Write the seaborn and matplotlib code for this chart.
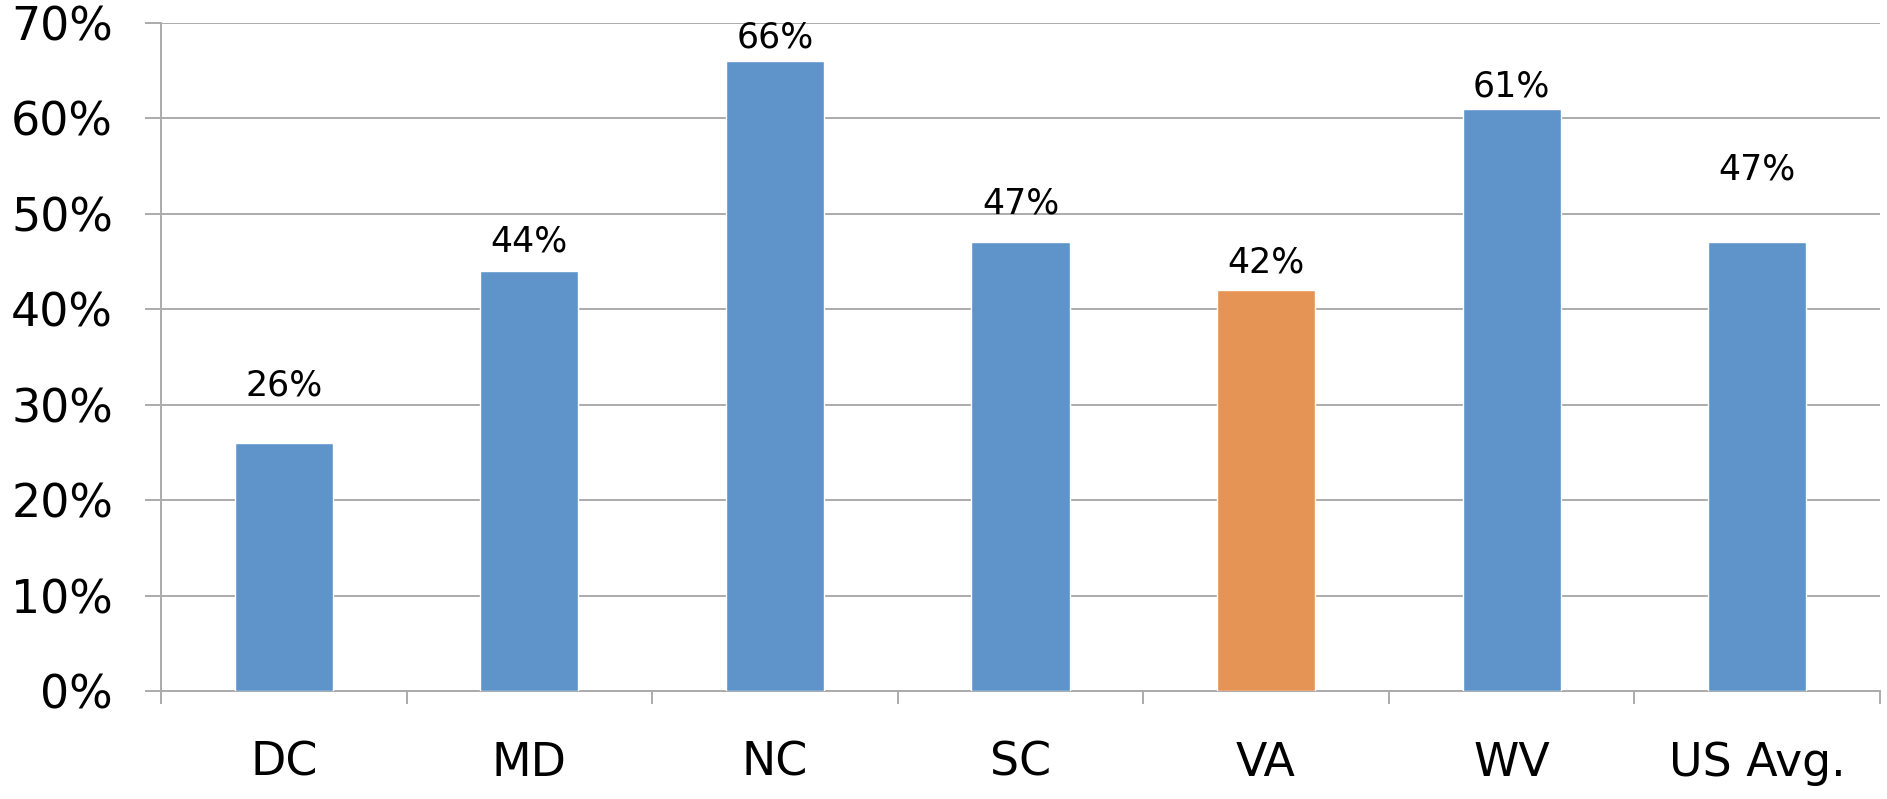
import numpy as np
import pandas as pd
import matplotlib
matplotlib.use("Agg")
import matplotlib.pyplot as plt
from matplotlib.ticker import FixedLocator
import seaborn as sns

# data
states = ["DC", "MD", "NC", "SC", "VA", "WV", "US Avg."]
share = [26, 44, 66, 47, 42, 61, 47]
bar_colors = ["#5E94C9", "#5E94C9", "#5E94C9", "#5E94C9", "#E69456", "#5E94C9", "#5E94C9"]
# how far each label sits above its bar (points)
label_gap = [29, 9, 5, 16, 8, 4, 40]

sns.set_style("white")
plt.rcParams["font.family"] = ["DejaVu Sans"]

df = pd.DataFrame({"state": states, "share": share})

fig = plt.figure(figsize=(18.87, 7.99), dpi=100)
ax = fig.add_axes([0.0853, 0.1352, 0.9110, 0.8360])

sns.barplot(data=df, x="state", y="share", hue="state", palette=bar_colors,
            width=0.4, legend=False, ax=ax, saturation=1, zorder=3)

ax.set_ylim(0, 70)
ax.set_xlim(-0.5, len(states) - 0.5)
ax.set_yticks(np.arange(0, 71, 10))
ax.set_yticklabels([f"{v}%" for v in range(0, 71, 10)])
ax.yaxis.grid(True, color="#ABABAB", lw=1.4, zorder=0)
ax.set_axisbelow(True)

for side in ["top", "right"]:
    ax.spines[side].set_visible(False)
for side in ["left", "bottom"]:
    ax.spines[side].set_color("#ABABAB")
    ax.spines[side].set_linewidth(1.4)

ax.tick_params(axis="y", length=11.5, width=1.4, color="#ABABAB", pad=23,
               labelsize=33, labelcolor="black", left=True)
ax.tick_params(axis="x", which="major", length=0, pad=36, labelsize=33,
               labelcolor="black")
ax.xaxis.set_minor_locator(FixedLocator(np.arange(-0.5, len(states), 1.0)))
ax.tick_params(axis="x", which="minor", length=9.5, width=1.4,
               color="#ABABAB", bottom=True)

ax.set_xlabel("")
ax.set_ylabel("")

for bar, v, g in zip(ax.patches, share, label_gap):
    ax.annotate(f"{v}%", (bar.get_x() + bar.get_width() / 2, bar.get_height()),
                xytext=(0, g), textcoords="offset points",
                ha="center", va="bottom", fontsize=25, color="black")

fig.savefig("out.png", dpi=100)
